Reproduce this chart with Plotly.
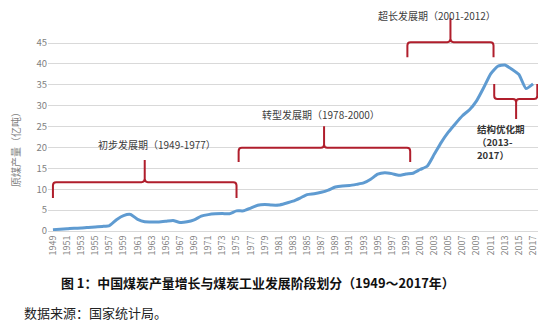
import plotly.graph_objects as go

# China raw coal output, 1949-2017 (100 million tonnes)
years = list(range(1949, 2018))
output = [
    0.32, 0.43, 0.53, 0.66, 0.70, 0.84, 0.98, 1.10, 1.31, 2.70,
    3.69, 3.97, 2.78, 2.20, 2.17, 2.15, 2.32, 2.52, 2.06, 2.20,
    2.66, 3.54, 3.92, 4.10, 4.17, 4.13, 4.82, 4.83, 5.50, 6.18,
    6.35, 6.20, 6.22, 6.66, 7.15, 7.89, 8.72, 8.94, 9.28, 9.80,
    10.54, 10.80, 10.87, 11.16, 11.50, 12.40, 13.61, 13.97, 13.73, 13.32,
    13.64, 13.84, 14.72, 15.50, 18.35, 21.23, 23.65, 25.70, 27.60, 29.03,
    31.15, 34.28, 37.64, 39.45, 39.74, 38.74, 37.47, 34.11, 35.24,
]
tick_years = years[::2]
y_ticks = [0, 5, 10, 15, 20, 25, 30, 35, 40, 45]

# development stages: brace start / end / tip (year), foot / bar / tip (value)
brace_x0 = [1949.0, 1975.3, 1999.2, 2011.5]
brace_x1 = [1975.0, 1999.6, 2011.4, 2017.6]
brace_xt = [1962.0, 1987.4, 2005.3, 2014.6]
brace_foot = [7.9, 16.5, 41.6, 35.2]
brace_bar = [11.7, 19.9, 45.2, 31.6]
brace_tip = [17.0, 25.1, 51.0, 26.8]

# stage labels (the last stage is written over three lines)
label_text = ["初步发展期（1949-1977）", "转型发展期（1978-2000）",
              "超长发展期（2001-2012）"]
label_x = [1963.7, 1987.0, 2003.4]
label_y = [20.6, 27.8, 51.7]
last_lines = ["结构优化期", "（2013-", "2017）"]
last_x = [2008.8, 2008.8, 2008.8]
last_y = [24.5, 21.3, 18.2]

BLUE = "#5f9bd1"
RED = "#b01e2c"
GREY = "#7f7f7f"
FONT = "Noto Sans CJK SC"


def brace_path(x0, x1, xt, foot, bar, tip, rx=0.45, ry=0.8):
    s = 1 if tip > bar else -1
    return (
        f"M {x0},{foot} L {x0},{bar - s * ry} Q {x0},{bar} {x0 + rx},{bar} "
        f"L {xt - rx},{bar} Q {xt},{bar} {xt},{bar + s * ry} L {xt},{tip} "
        f"M {xt},{bar + s * ry} Q {xt},{bar} {xt + rx},{bar} "
        f"L {x1 - rx},{bar} Q {x1},{bar} {x1},{bar - s * ry} L {x1},{foot}"
    )


fig = go.Figure()
fig.add_trace(go.Scatter(
    x=years, y=output, mode="lines",
    line=dict(color=BLUE, width=3, shape="spline", smoothing=0.5),
    hoverinfo="x+y", showlegend=False,
))

shapes = []
for i in range(len(brace_x0)):
    shapes.append(dict(
        type="path", xref="x", yref="y",
        path=brace_path(brace_x0[i], brace_x1[i], brace_xt[i],
                        brace_foot[i], brace_bar[i], brace_tip[i]),
        line=dict(color=RED, width=2),
    ))

annotations = []
for txt, x, y in zip(label_text, label_x, label_y):
    annotations.append(dict(
        x=x, y=y, xref="x", yref="y", text=txt, showarrow=False,
        xanchor="center", yanchor="middle",
        font=dict(family=FONT, size=10, color="#404040"),
    ))
for txt, x, y in zip(last_lines, last_x, last_y):
    annotations.append(dict(
        x=x, y=y, xref="x", yref="y", text=f"<b>{txt}</b>", showarrow=False,
        xanchor="left", yanchor="middle",
        font=dict(family=FONT, size=9.5, color="#333333"),
    ))

annotations += [
    dict(x=-0.0653, y=0.364, xref="paper", yref="paper", text="原煤产量（亿吨）",
         textangle=-90, showarrow=False, xanchor="center", yanchor="middle",
         font=dict(family=FONT, size=10, color=GREY)),
    dict(x=0.0225, y=-0.225, xref="paper", yref="paper",
         text="<b>图 1：中国煤炭产量增长与煤炭工业发展阶段划分（1949～2017年）</b>",
         showarrow=False, xanchor="left", yanchor="middle",
         font=dict(family=FONT, size=12.9, color="#111111")),
    dict(x=-0.053, y=-0.351, xref="paper", yref="paper", text="数据来源：国家统计局。",
         showarrow=False, xanchor="left", yanchor="middle",
         font=dict(family=FONT, size=13, color="#222222")),
]

fig.update_layout(
    width=558, height=328,
    margin=dict(l=48, r=20, t=0, b=97),
    paper_bgcolor="white", plot_bgcolor="white",
    shapes=shapes, annotations=annotations,
    font=dict(family=FONT),
    xaxis=dict(
        range=[1948.3, 2017.7], tickmode="array", tickvals=tick_years,
        ticktext=[str(y) for y in tick_years], tickangle=-90,
        showgrid=False, zeroline=False, showline=True, linecolor="#d9d9d9",
        ticks="", tickfont=dict(family=FONT, size=9, color=GREY),
    ),
    yaxis=dict(
        range=[0, 55.3], tickmode="array", tickvals=y_ticks,
        showgrid=True, gridcolor="#d9d9d9", gridwidth=1, zeroline=False,
        showline=False, ticks="", tickfont=dict(family=FONT, size=9.5, color=GREY),
    ),
)

fig.write_html("out.html")
